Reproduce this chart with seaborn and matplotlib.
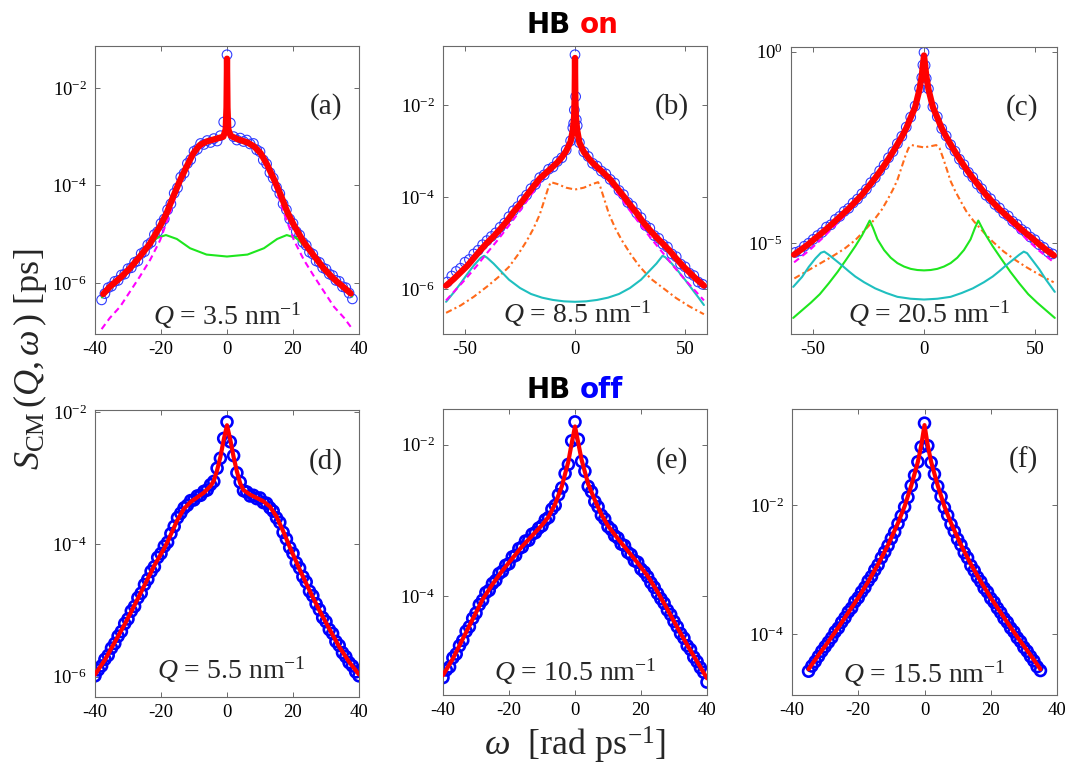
import matplotlib

matplotlib.use("Agg")

import matplotlib.pyplot as plt
import numpy as np
import pandas as pd
import seaborn as sns
from matplotlib.ticker import NullLocator

# All intensities are stored as log10(S / ps).

# (a) HB on, Q = 3.5 nm^-1
A_DATA_W = np.arange(-38, 39)
A_DATA_LOG = [
    -6.35, -6.22, -6.10, -6.07, -5.97, -5.95, -5.84, -5.82, -5.71, -5.69,
    -5.58, -5.55, -5.40, -5.36, -5.22, -5.17, -5.01, -4.95, -4.78, -4.69,
    -4.50, -4.38, -4.16, -4.05, -3.83, -3.75, -3.55, -3.47, -3.30, -3.26,
    -3.14, -3.16, -3.08, -3.12, -3.04, -3.09, -2.98, -2.70, -1.32, -2.72,
    -3.00, -3.07, -3.03, -3.10, -3.07, -3.15, -3.14, -3.27, -3.31, -3.48,
    -3.56, -3.74, -3.85, -4.04, -4.17, -4.38, -4.50, -4.69, -4.78, -4.95,
    -5.02, -5.17, -5.23, -5.37, -5.41, -5.55, -5.58, -5.69, -5.72, -5.82,
    -5.85, -5.95, -5.97, -6.08, -6.10, -6.21, -6.33,
]
A_FIT_W = [-37.5, -35.5, -32.4, -29.4, -26.4, -23.3, -20.3, -18.3, -16.3, -14.2,
           -12.2, -10.2, -8.2, -6.2, -3.1, -1.1, -0.4, -0.15, 0, 0.15, 0.4, 1.1,
           3.1, 6.2, 8.2, 10.2, 12.2, 14.2, 16.3, 18.3, 20.3, 23.3, 26.4, 29.4,
           32.4, 35.5, 37.5]
A_FIT_LOG = [-6.23, -6.08, -5.90, -5.70, -5.46, -5.19, -4.84, -4.57, -4.23, -3.89,
             -3.61, -3.34, -3.17, -3.10, -3.04, -3.00, -2.85, -2.40, -1.40, -2.40,
             -2.85, -2.98, -3.05, -3.12, -3.20, -3.34, -3.58, -3.87, -4.20, -4.55,
             -4.82, -5.17, -5.45, -5.71, -5.92, -6.10, -6.22]
A_CENTRAL_W = [-38, -35.5, -32.4, -29.4, -26.4, -23.3, -20.3, -17.3, -14.2, -10.2,
               -6.2, -2, 0, 2, 6.2, 10.2, 14.2, 17.3, 20.3, 23.3, 26.4, 29.4, 32.4,
               35.5, 38]
A_CENTRAL_LOG = [-6.95, -6.72, -6.49, -6.18, -5.87, -5.53, -5.13, -4.57, -3.95, -3.36,
                 -3.12, -3.03, -2.95, -3.03, -3.12, -3.36, -3.95, -4.57, -5.13, -5.53,
                 -5.87, -6.18, -6.49, -6.72, -6.95]
A_MODE1_W = [-37.9, -35, -31.4, -28, -26.4, -24, -21.3, -18.5, -15.2, -11.2, -6.2, 0,
             6.2, 11.2, 15.2, 18.1, 21, 24, 26.4, 28, 31.4, 35, 37.9]
A_MODE1_LOG = [-6.30, -6.10, -5.88, -5.64, -5.48, -5.28, -5.08, -5.02, -5.10, -5.29,
               -5.42, -5.46, -5.42, -5.29, -5.10, -5.02, -5.08, -5.28, -5.46, -5.60,
               -5.86, -6.08, -6.28]

# (b) HB on, Q = 8.5 nm^-1
B_DATA_W = np.concatenate([np.arange(-58, -1, 2), [-1, -0.6, -0.3, 0, 0.3, 0.6, 1],
                           np.arange(2, 59, 2)])
B_DATA_LOG = [
    -5.85, -5.72, -5.62, -5.55, -5.42, -5.36, -5.24, -5.16, -5.04, -4.95,
    -4.86, -4.78, -4.66, -4.57, -4.43, -4.30, -4.21, -4.06, -3.96, -3.82,
    -3.73, -3.58, -3.52, -3.40, -3.35, -3.23, -3.15, -2.98, -2.78,
    -2.50, -2.40, -2.11, -0.91, -1.82, -2.32, -2.45,
    -2.82, -3.02, -3.12, -3.27, -3.33, -3.44, -3.50, -3.62, -3.70, -3.86,
    -3.95, -4.12, -4.20, -4.35, -4.45, -4.62, -4.68, -4.84, -4.90, -5.03,
    -5.09, -5.24, -5.30, -5.46, -5.52, -5.66, -5.71, -5.85, -5.90,
]
B_FIT_W = [-58.6, -55, -52, -49, -46, -43, -40, -37, -34, -31, -28, -25, -22, -19,
           -16, -13, -10, -8, -6, -4, -2, -1, -0.4, -0.15, 0, 0.15, 0.4, 1, 2, 4, 6,
           8, 10, 13, 16, 19, 22, 25, 28, 31, 34, 37, 40, 43, 46, 49, 52, 55, 58.6]
B_FIT_LOG = [-5.93, -5.78, -5.64, -5.50, -5.33, -5.16, -5.00, -4.86, -4.70, -4.53,
             -4.33, -4.16, -3.97, -3.78, -3.60, -3.47, -3.34, -3.25, -3.14, -3.00,
             -2.80, -2.55, -2.25, -1.80, -0.98, -1.80, -2.25, -2.55, -2.82, -3.02,
             -3.15, -3.26, -3.35, -3.48, -3.62, -3.80, -3.98, -4.17, -4.35, -4.55,
             -4.72, -4.88, -5.02, -5.17, -5.34, -5.50, -5.64, -5.78, -5.93]
B_CENTRAL_W = [-58.6, -55, -50, -45, -40, -35, -30, -25, -20, -15, -10, -6, -3, -1, 0,
               1, 3, 6, 10, 15, 20, 25, 30, 35, 40, 45, 50, 55, 58.6]
B_CENTRAL_LOG = [-6.25, -6.06, -5.80, -5.52, -5.22, -4.93, -4.62, -4.30, -3.96, -3.63,
                 -3.37, -3.18, -2.97, -2.65, -2.30, -2.65, -2.97, -3.18, -3.37, -3.63,
                 -3.96, -4.30, -4.62, -4.93, -5.22, -5.52, -5.80, -6.06, -6.25]
B_MODE1_W = [-58.6, -52, -46, -40, -35, -30, -26, -22, -19, -16, -14, -12, -11, -8, -4,
             0, 4, 8, 10.5, 11.5, 13.5, 15.5, 18.5, 21.5, 25.5, 29.5, 34.5, 40, 46, 52,
             58.6]
B_MODE1_LOG = [-6.52, -6.36, -6.17, -5.95, -5.75, -5.52, -5.26, -4.96, -4.70, -4.38,
               -4.08, -3.78, -3.68, -3.72, -3.80, -3.84, -3.80, -3.72, -3.68, -3.78,
               -4.08, -4.38, -4.70, -4.96, -5.26, -5.52, -5.78, -5.98, -6.20, -6.38,
               -6.55]
B_MODE2_W = [-58.6, -55, -52, -49, -46, -43, -41.3, -40, -37, -34, -30, -25, -20, -15,
             -10, -5, 0, 5, 10, 15, 20, 25, 30, 34, 37, 39.8, 41, 44, 47, 50, 53, 56,
             58.6]
B_MODE2_LOG = [-6.28, -6.07, -5.88, -5.68, -5.49, -5.33, -5.28, -5.32, -5.45, -5.60,
               -5.80, -5.98, -6.11, -6.19, -6.24, -6.27, -6.28, -6.27, -6.24, -6.19,
               -6.11, -5.98, -5.80, -5.60, -5.45, -5.28, -5.31, -5.45, -5.62, -5.80,
               -5.99, -6.18, -6.35]

# (c) HB on, Q = 20.5 nm^-1
C_DATA_W = np.concatenate([np.arange(-58, -1, 2), [-1, -0.5, 0, 0.5, 1],
                           np.arange(2, 59, 2)])
C_DATA_LOG = [
    -5.24, -5.20, -5.08, -5.00, -4.90, -4.80, -4.72, -4.58, -4.52, -4.38,
    -4.30, -4.17, -4.09, -3.95, -3.85, -3.71, -3.59, -3.42, -3.29, -3.11,
    -2.96, -2.77, -2.61, -2.40, -2.21, -1.97, -1.71, -1.42, -0.96,
    -0.68, -0.35, -0.02, -0.36, -0.70,
    -0.97, -1.44, -1.70, -2.01, -2.20, -2.43, -2.60, -2.81, -2.95, -3.15,
    -3.28, -3.46, -3.58, -3.75, -3.84, -3.99, -4.08, -4.22, -4.29, -4.43,
    -4.51, -4.64, -4.71, -4.84, -4.91, -5.04, -5.11, -5.23, -5.28,
]
C_FIT_W = [-58.6, -55, -52, -49, -46, -43, -40, -37, -34, -31, -28, -25, -22, -19,
           -16, -13, -10, -8, -6, -4, -2, -1, 0, 1, 2, 4, 6, 8, 10, 13, 16, 19, 22, 25,
           28, 31, 34, 37, 40, 43, 46, 49, 52, 55, 58.6]
C_FIT_LOG = [-5.30, -5.15, -5.02, -4.87, -4.73, -4.58, -4.42, -4.26, -4.10, -3.92,
             -3.74, -3.52, -3.30, -3.06, -2.80, -2.52, -2.22, -2.00, -1.72, -1.45,
             -0.98, -0.62, -0.10, -0.62, -0.98, -1.45, -1.72, -2.00, -2.22, -2.52,
             -2.80, -3.06, -3.30, -3.52, -3.74, -3.93, -4.11, -4.27, -4.43, -4.59,
             -4.74, -4.88, -5.03, -5.17, -5.32]
C_CENTRAL_W = [-58.6, -52, -46, -40, -34, -28, -22, -16, -10, -6, -3, 0, 3, 6, 10, 16,
               22, 28, 34, 40, 46, 52, 58.6]
C_CENTRAL_LOG = [-5.50, -5.20, -4.88, -4.53, -4.17, -3.79, -3.33, -2.82, -2.23, -1.74,
                 -1.25, -0.30, -1.25, -1.74, -2.23, -2.82, -3.33, -3.79, -4.17, -4.53,
                 -4.88, -5.20, -5.50]
C_MODE1_W = [-58.5, -52, -46, -41.5, -36, -31, -27, -22.5, -19, -16.5, -14, -12, -10,
             -8.5, -7, -5.5, -3, 0, 3, 5.5, 7, 8.5, 10, 12, 14, 16.5, 19, 22.5, 27, 31,
             36, 41.5, 46, 52, 58.5]
C_MODE1_LOG = [-5.92, -5.70, -5.50, -5.35, -5.15, -4.92, -4.68, -4.39, -4.12, -3.87,
               -3.60, -3.35, -3.00, -2.74, -2.52, -2.44, -2.47, -2.50, -2.47, -2.44,
               -2.52, -2.76, -3.02, -3.38, -3.63, -3.90, -4.16, -4.43, -4.72, -4.96,
               -5.22, -5.45, -5.62, -5.82, -6.02]
C_MODE2_W = [-59, -55, -51, -47, -43, -39, -35, -31, -28, -26, -24.5, -23, -21, -18,
             -15, -12, -9, -6, -3, 0, 3, 6, 9, 12, 15, 18, 21, 23, 24.5, 26, 28, 31, 35,
             39, 43, 47, 51, 55, 59]
C_MODE2_LOG = [-6.95, -6.75, -6.55, -6.33, -6.05, -5.75, -5.42, -5.08, -4.80, -4.58,
               -4.41, -4.60, -4.90, -5.18, -5.38, -5.52, -5.61, -5.67, -5.70, -5.71,
               -5.70, -5.67, -5.61, -5.52, -5.38, -5.18, -4.90, -4.60, -4.41, -4.58,
               -4.80, -5.08, -5.42, -5.75, -6.05, -6.33, -6.55, -6.75, -6.95]
C_MODE3_W = [-59, -55, -52, -49, -46.5, -45, -43, -40, -37, -34, -31, -27, -22, -17,
             -12, -6, 0, 6, 12, 17, 22, 27, 31, 34, 37, 40, 43, 45, 46.5, 49, 52, 55, 59]
C_MODE3_LOG = [-6.14, -5.88, -5.62, -5.40, -5.25, -5.22, -5.30, -5.44, -5.58, -5.73,
               -5.87, -6.02, -6.18, -6.30, -6.40, -6.45, -6.47, -6.45, -6.40, -6.30,
               -6.18, -6.02, -5.87, -5.73, -5.58, -5.44, -5.30, -5.22, -5.26, -5.45,
               -5.68, -5.95, -6.27]

# (d) HB off, Q = 5.5 nm^-1
D_DATA_W = np.arange(-40, 41)
D_DATA_LOG = [
    -5.99, -5.90, -5.84, -5.74, -5.68, -5.57, -5.50, -5.39, -5.32, -5.20,
    -5.13, -5.01, -4.94, -4.81, -4.74, -4.61, -4.53, -4.41, -4.34, -4.20,
    -4.14, -4.03, -3.97, -3.84, -3.73, -3.60, -3.53, -3.45, -3.41, -3.34,
    -3.33, -3.27, -3.26, -3.20, -3.18, -3.10, -3.05, -2.85, -2.70, -2.40,
    -2.15,
    -2.45, -2.66, -2.92, -3.06, -3.19, -3.21, -3.27, -3.26, -3.31, -3.30,
    -3.37, -3.38, -3.45, -3.50, -3.60, -3.67, -3.82, -3.92, -4.05, -4.14,
    -4.28, -4.36, -4.49, -4.57, -4.71, -4.78, -4.90, -4.99, -5.11, -5.17,
    -5.29, -5.35, -5.47, -5.53, -5.64, -5.70, -5.79, -5.84, -5.93, -5.99,
]
D_FIT_W = [-40, -37, -34, -31, -28, -25, -22, -19, -18, -17, -15, -13, -11, -9, -7, -5,
           -4, -3, -2, -1, 0, 1, 2, 3, 4, 5, 7, 9, 11, 13, 15, 17, 18, 19, 22, 25, 28,
           31, 34, 37, 40]
D_FIT_LOG = [-5.97, -5.75, -5.48, -5.21, -4.92, -4.62, -4.32, -4.06, -3.96, -3.85,
             -3.63, -3.46, -3.36, -3.29, -3.22, -3.12, -3.04, -2.88, -2.68, -2.42,
             -2.20, -2.42, -2.68, -2.90, -3.08, -3.18, -3.25, -3.30, -3.35, -3.43,
             -3.58, -3.80, -3.92, -4.04, -4.38, -4.70, -5.00, -5.28, -5.55, -5.78,
             -5.97]

# (e) HB off, Q = 10.5 nm^-1
E_DATA_W = np.arange(-40, 41)
E_DATA_LOG = [
    -5.07, -4.97, -4.93, -4.81, -4.76, -4.65, -4.58, -4.46, -4.40, -4.29,
    -4.22, -4.11, -4.05, -3.95, -3.92, -3.83, -3.79, -3.70, -3.67, -3.59,
    -3.57, -3.48, -3.46, -3.37, -3.35, -3.27, -3.26, -3.18, -3.16, -3.10,
    -3.07, -2.99, -2.96, -2.85, -2.80, -2.66, -2.57, -2.38, -2.26, -1.95,
    -1.70,
    -1.93, -2.22, -2.35, -2.55, -2.62, -2.75, -2.82, -2.93, -2.98, -3.08,
    -3.12, -3.20, -3.23, -3.31, -3.33, -3.42, -3.45, -3.53, -3.55, -3.64,
    -3.68, -3.74, -3.82, -3.88, -3.96, -4.03, -4.09, -4.18, -4.24, -4.33,
    -4.40, -4.49, -4.55, -4.65, -4.70, -4.80, -4.86, -4.94, -5.00, -5.13,
]
E_FIT_W = [-40, -37, -34, -31, -28, -25, -22, -19, -16, -13, -10, -8, -6, -4, -2, -1, 0,
           1, 2, 4, 6, 8, 10, 13, 16, 19, 22, 25, 28, 31, 34, 37, 40]
E_FIT_LOG = [-5.04, -4.82, -4.56, -4.30, -4.04, -3.84, -3.66, -3.50, -3.34, -3.20,
             -3.06, -2.95, -2.78, -2.55, -2.22, -1.98, -1.76, -1.98, -2.20, -2.52,
             -2.73, -2.92, -3.07, -3.24, -3.40, -3.56, -3.73, -3.94, -4.17, -4.41,
             -4.64, -4.86, -5.08]

# (f) HB off, Q = 15.5 nm^-1
F_DATA_W = np.arange(-35, 36)
F_DATA_LOG = [
    -4.58, -4.50, -4.43, -4.35, -4.27, -4.20, -4.13, -4.06, -3.97, -3.91,
    -3.82, -3.75, -3.66, -3.60, -3.50, -3.44, -3.35, -3.28, -3.18, -3.11,
    -3.01, -2.93, -2.82, -2.73, -2.63, -2.52, -2.42, -2.29, -2.17, -2.03,
    -1.88, -1.70, -1.54, -1.33, -1.10,
    -0.73,
    -1.08, -1.34, -1.52, -1.71, -1.87, -2.04, -2.16, -2.30, -2.41, -2.53,
    -2.62, -2.74, -2.82, -2.94, -3.02, -3.12, -3.19, -3.29, -3.35, -3.45,
    -3.51, -3.60, -3.67, -3.76, -3.82, -3.91, -3.97, -4.06, -4.12, -4.21,
    -4.27, -4.35, -4.42, -4.51, -4.57,
]
F_FIT_W = [-35, -32, -29, -26, -23, -20, -17, -14, -11, -8, -6, -4, -2, -1, 0, 1, 2, 4,
           6, 8, 11, 14, 17, 20, 23, 26, 29, 32, 35]
F_FIT_LOG = [-4.55, -4.33, -4.12, -3.90, -3.67, -3.44, -3.19, -2.92, -2.62, -2.28,
             -2.02, -1.70, -1.33, -1.08, -0.76, -1.08, -1.33, -1.70, -2.02, -2.28,
             -2.62, -2.92, -3.19, -3.44, -3.67, -3.90, -4.12, -4.33, -4.55]

MAGENTA = "#ff00ff"
ORANGE = "#ff6a1a"
GREEN = "#1ee61e"
CYAN = "#1fbfbf"

FIG_W, FIG_H = 1069, 765


def box(x0, y0, x1, y1):
    return [x0 / FIG_W, 1 - y1 / FIG_H, (x1 - x0) / FIG_W, (y1 - y0) / FIG_H]


def frame(w, logs):
    return pd.DataFrame({"w": np.asarray(w, dtype=float), "s": 10.0 ** np.asarray(logs)})


def draw_panel(ax, p):
    ax.set_yscale("log")
    sns.scatterplot(data=frame(p["data_w"], p["data_log"]), x="w", y="s", ax=ax,
                    marker="o", s=p["msize"], facecolor="none",
                    edgecolor=p["mcolor"], linewidth=p["mlw"], zorder=2)
    for w, logs, color, ls in p.get("parts", []):
        sns.lineplot(data=frame(w, logs), x="w", y="s", ax=ax, color=color,
                     linestyle=ls, linewidth=1.5, estimator=None, zorder=3)
    sns.lineplot(data=frame(p["fit_w"], p["fit_log"]), x="w", y="s", ax=ax,
                 color="#ff0000", linewidth=p["flw"], estimator=None, zorder=4)

    ax.set_xlim(*p["xlim"])
    ax.set_ylim(10.0 ** p["ylim"][0], 10.0 ** p["ylim"][1])
    ax.set_xticks(p["xticks"])
    ax.set_xticklabels([str(t) for t in p["xticks"]])
    ax.set_yticks([10.0 ** e for e in p["yticks"]])
    ax.set_yticklabels([f"10$^{{{e}}}$" for e in p["yticks"]])
    ax.yaxis.set_minor_locator(NullLocator())
    ax.xaxis.set_minor_locator(NullLocator())
    ax.set_xlabel("")
    ax.set_ylabel("")
    ax.tick_params(which="both", direction="in", top=True, right=True, length=3.5,
                   width=0.7, color="#6a6a6a", labelsize=13.5, labelcolor="black")
    ax.tick_params(axis="x", pad=5)
    ax.tick_params(axis="y", pad=6)
    for spine in ax.spines.values():
        spine.set_visible(True)
        spine.set_color("#6a6a6a")
        spine.set_linewidth(0.8)

    ax.text(p["tag_pos"][0], p["tag_pos"][1], p["tag"], transform=ax.transAxes,
            ha="center", va="center", fontsize=21)
    ax.text(p["q_pos"][0], p["q_pos"][1], p["q"], transform=ax.transAxes,
            ha="center", va="center", fontsize=20)


sns.set_style("ticks")
plt.rcParams["font.family"] = ["Liberation Serif", "DejaVu Serif"]
plt.rcParams.update({
    "mathtext.fontset": "custom",
    "mathtext.rm": "Liberation Serif",
    "mathtext.it": "Liberation Serif:italic",
    "mathtext.bf": "Liberation Serif:bold",
    "mathtext.default": "regular",
    "axes.unicode_minus": False,
})

on_style = dict(msize=48, mcolor="#2f3cff", mlw=0.8, flw=4.5)
off_style = dict(msize=62, mcolor="#0000ff", mlw=1.9, flw=3.0)

panels = [
    dict(rect=box(95, 46, 359, 334), data_w=A_DATA_W, data_log=A_DATA_LOG,
         fit_w=A_FIT_W, fit_log=A_FIT_LOG,
         parts=[(A_MODE1_W, A_MODE1_LOG, GREEN, "-"),
                (A_CENTRAL_W, A_CENTRAL_LOG, MAGENTA, (0, (3, 2)))],
         xlim=(-40, 40), xticks=[-40, -20, 0, 20, 40], ylim=(-7.05, -1.14),
         yticks=[-2, -4, -6], tag="(a)", tag_pos=(0.875, 0.79),
         q=r"$\mathit{Q}$ = 3.5 nm$^{-1}$", q_pos=(0.5, 0.065), **on_style),
    dict(rect=box(443, 46, 707, 334), data_w=B_DATA_W, data_log=B_DATA_LOG,
         fit_w=B_FIT_W, fit_log=B_FIT_LOG,
         parts=[(B_MODE1_W, B_MODE1_LOG, ORANGE, (0, (3, 1.5, 1, 1.5))),
                (B_MODE2_W, B_MODE2_LOG, CYAN, "-"),
                (B_CENTRAL_W, B_CENTRAL_LOG, MAGENTA, (0, (3, 2)))],
         xlim=(-60, 60), xticks=[-50, 0, 50], ylim=(-6.98, -0.72),
         yticks=[-2, -4, -6], tag="(b)", tag_pos=(0.867, 0.79),
         q=r"$\mathit{Q}$ = 8.5 nm$^{-1}$", q_pos=(0.51, 0.07), **on_style),
    dict(rect=box(791, 47, 1057, 334), data_w=C_DATA_W, data_log=C_DATA_LOG,
         fit_w=C_FIT_W, fit_log=C_FIT_LOG,
         parts=[(C_MODE1_W, C_MODE1_LOG, ORANGE, (0, (3, 1.5, 1, 1.5))),
                (C_MODE2_W, C_MODE2_LOG, GREEN, "-"),
                (C_MODE3_W, C_MODE3_LOG, CYAN, "-"),
                (C_CENTRAL_W, C_CENTRAL_LOG, MAGENTA, (0, (3, 2)))],
         xlim=(-60, 60), xticks=[-50, 0, 50], ylim=(-7.37, 0.12),
         yticks=[0, -5], tag="(c)", tag_pos=(0.868, 0.79),
         q=r"$\mathit{Q}$ = 20.5 nm$^{-1}$", q_pos=(0.52, 0.07), **on_style),
    dict(rect=box(95, 410, 359, 697), data_w=D_DATA_W, data_log=D_DATA_LOG,
         fit_w=D_FIT_W, fit_log=D_FIT_LOG,
         xlim=(-40, 40), xticks=[-40, -20, 0, 20, 40], ylim=(-6.31, -1.97),
         yticks=[-2, -4, -6], tag="(d)", tag_pos=(0.875, 0.82),
         q=r"$\mathit{Q}$ = 5.5 nm$^{-1}$", q_pos=(0.515, 0.095), **off_style),
    dict(rect=box(443, 409, 707, 695), data_w=E_DATA_W, data_log=E_DATA_LOG,
         fit_w=E_FIT_W, fit_log=E_FIT_LOG,
         xlim=(-40, 40), xticks=[-40, -20, 0, 20, 40], ylim=(-5.30, -1.53),
         yticks=[-2, -4], tag="(e)", tag_pos=(0.867, 0.82),
         q=r"$\mathit{Q}$ = 10.5 nm$^{-1}$", q_pos=(0.5, 0.082), **off_style),
    dict(rect=box(792, 409, 1057, 695), data_w=F_DATA_W, data_log=F_DATA_LOG,
         fit_w=F_FIT_W, fit_log=F_FIT_LOG,
         xlim=(-40, 40), xticks=[-40, -20, 0, 20, 40], ylim=(-4.95, -0.51),
         yticks=[-2, -4], tag="(f)", tag_pos=(0.875, 0.82),
         q=r"$\mathit{Q}$ = 15.5 nm$^{-1}$", q_pos=(0.5, 0.075), **off_style),
]

fig = plt.figure(figsize=(FIG_W / 100, FIG_H / 100), dpi=100)
fig.patch.set_facecolor("white")

for p in panels:
    ax = fig.add_axes(p["rect"])
    draw_panel(ax, p)

head = dict(ha="center", va="center", fontsize=20, fontweight="bold",
            family="DejaVu Sans")
fig.text(571 / FIG_W, 1 - 25 / FIG_H, "HB", color="black",
         **{**head, "ha": "right"})
fig.text(580 / FIG_W, 1 - 25 / FIG_H, "on", color="#ff0000",
         **{**head, "ha": "left"})
fig.text(571 / FIG_W, 1 - 390 / FIG_H, "HB", color="black",
         **{**head, "ha": "right"})
fig.text(580 / FIG_W, 1 - 390 / FIG_H, "off", color="#0000ff",
         **{**head, "ha": "left"})

fig.text(30 / FIG_W, 1 - 359 / FIG_H,
         r"$\mathit{S}_{\mathrm{CM}}\,(\mathit{Q},\mathit{\omega}\,)$ [ps]",
         rotation=90, ha="center", va="center", fontsize=26)
fig.text(575 / FIG_W, 1 - 745 / FIG_H, r"$\mathit{\omega}$  [rad ps$^{-1}$]",
         ha="center", va="center", fontsize=26)

fig.savefig("out.png", dpi=100, facecolor="white")
